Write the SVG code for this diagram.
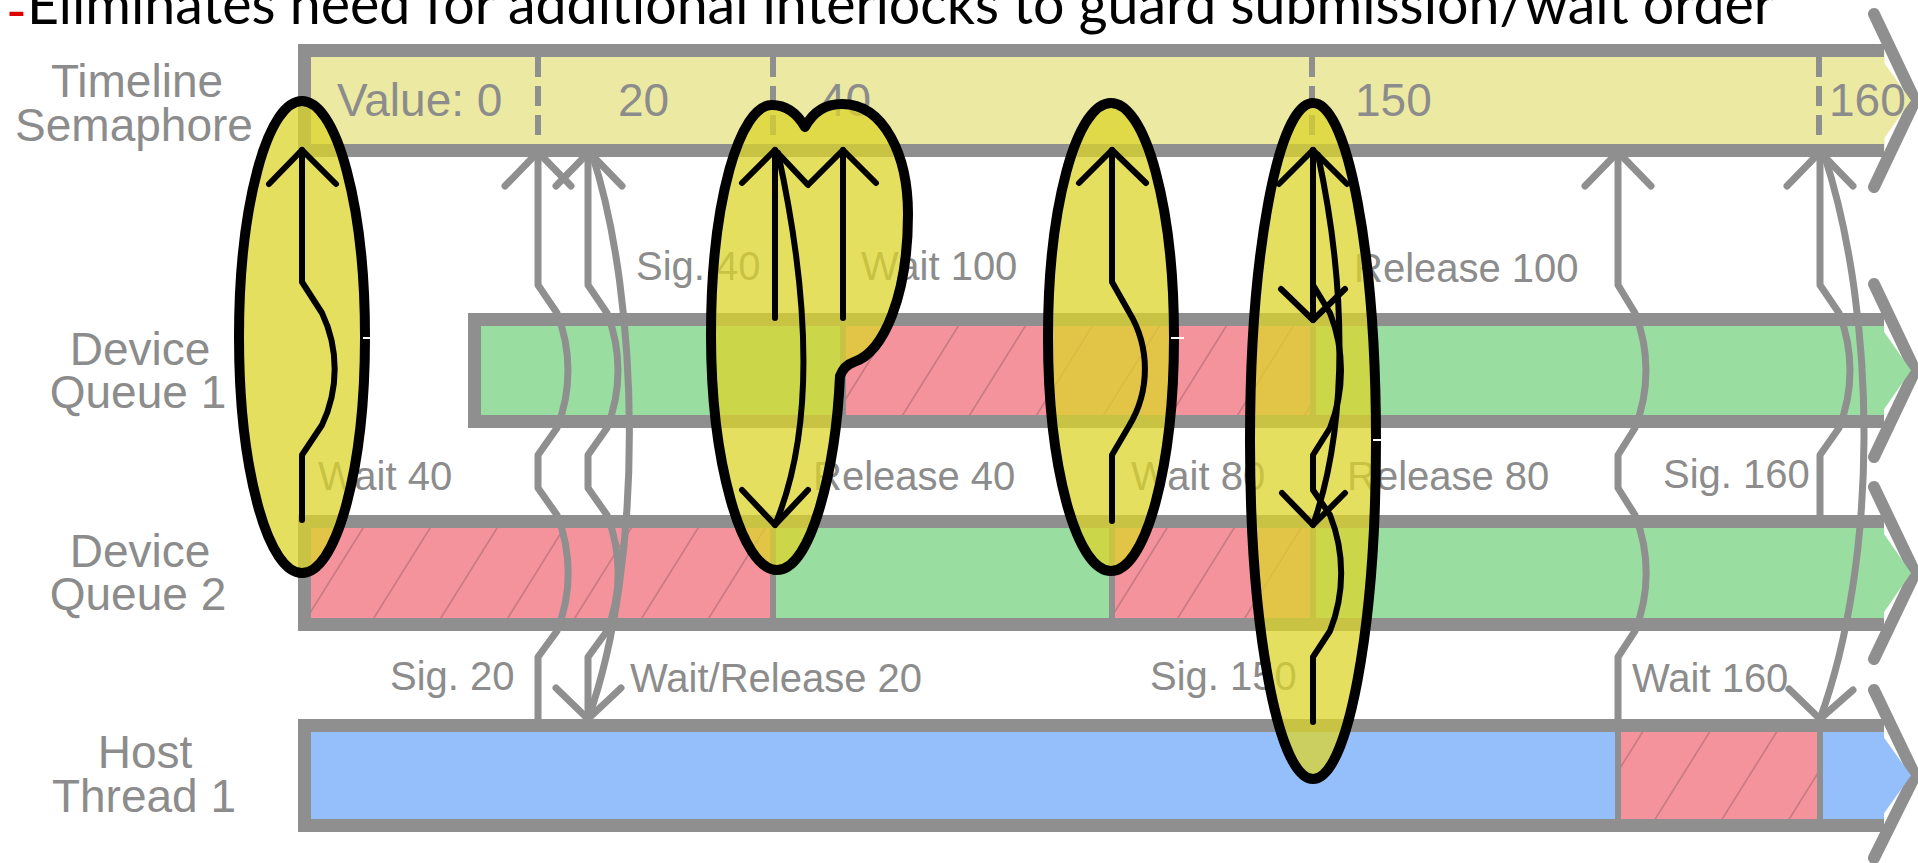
<svg xmlns="http://www.w3.org/2000/svg" width="1918" height="863" viewBox="0 0 1918 863">
<defs>
<pattern id="hatch" patternUnits="userSpaceOnUse" width="67" height="67" patternTransform="skewX(-32)">
<rect width="67" height="67" fill="#f4939c"/>
<line x1="23" y1="0" x2="23" y2="67" stroke="#c97a83" stroke-width="2"/>
</pattern>
</defs>
<style>
.bd{fill:none;stroke:#8f8f8f;stroke-width:13}
.chev{fill:none;stroke:#8f8f8f;stroke-width:12;stroke-linecap:round;stroke-linejoin:round}
.div{stroke:#8f8f8f;stroke-width:6}
.tick{stroke:#8f8f8f;stroke-width:6;stroke-dasharray:20 9}
.lane{font-family:"Liberation Sans",Arial,sans-serif;font-size:46px;fill:#8c8c8c;text-anchor:middle}
.val{font-family:"Liberation Sans",Arial,sans-serif;font-size:46px;fill:#8c8c8c}
.lbl{font-family:"Liberation Sans",Arial,sans-serif;font-size:40px;fill:#8c8c8c}
.con{fill:none;stroke:#8f8f8f;stroke-width:7;stroke-linecap:round;stroke-linejoin:round}
.blob{fill:#dcd42b;fill-opacity:0.75;stroke:#000;stroke-width:10;stroke-linejoin:round}
.blk{fill:none;stroke:#000;stroke-width:6;stroke-linecap:round;stroke-linejoin:round}
.wt{stroke:#fff;stroke-width:2}
.g{fill:#99dda0}.r{fill:url(#hatch)}.b{fill:#95bffb}.y{fill:#ece9a3}
.title{font-family:Lato,"Open Sans",sans-serif;font-size:56px;fill:#000}
.dash{font-family:Lato,"Open Sans",sans-serif;font-size:56px;fill:#e00000}
</style>

<g id="title">
<text class="dash" x="6" y="31">-</text>
<text class="title" x="27" y="24" textLength="1747" lengthAdjust="spacingAndGlyphs">Eliminates need for additional interlocks to guard submission/wait order</text>
</g>

<g id="timeline">
<path class="chev" d="M1874,14 L1915,100.5 L1874,187"/>
<rect class="y" x="304.5" y="50.5" width="1580" height="100"/>
<polygon class="y" points="1880,57 1911,100.5 1880,144"/>
<path class="bd" d="M1884,50.5 H304.5 V150.5 H1884"/>
<line class="tick" x1="538" y1="57" x2="538" y2="144"/>
<line class="tick" x1="773" y1="57" x2="773" y2="144"/>
<line class="tick" x1="1312" y1="57" x2="1312" y2="144"/>
<line class="tick" x1="1819" y1="57" x2="1819" y2="144"/>
<text class="lane" x="137" y="97">Timeline</text>
<text class="lane" x="134" y="141">Semaphore</text>
<text class="val" x="337" y="116">Value: 0</text>
<text class="val" x="618" y="116">20</text>
<text class="val" x="820" y="116">40</text>
<text class="val" x="1355" y="116">150</text>
<text class="val" x="1829" y="116">160</text>
</g>

<g id="queue1">
<path class="chev" d="M1874,284 L1915,370.5 L1874,457"/>
<rect class="g" x="474.5" y="319.5" width="369" height="102"/>
<rect class="r" x="843" y="319.5" width="470" height="102"/>
<rect class="g" x="1313" y="319.5" width="571" height="102"/>
<polygon class="g" points="1880,326 1911,370.5 1880,415"/>
<line class="div" x1="843" y1="319.5" x2="843" y2="421.5"/>
<line class="div" x1="1313" y1="319.5" x2="1313" y2="421.5"/>
<path class="bd" d="M1884,319.5 H474.5 V421.5 H1884"/>
<text class="lane" x="140" y="365">Device</text>
<text class="lane" x="138" y="408">Queue 1</text>
</g>

<g id="queue2">
<path class="chev" d="M1874,487 L1915,573 L1874,659"/>
<rect class="r" x="304.5" y="521.5" width="469" height="103"/>
<rect class="g" x="773" y="521.5" width="339" height="103"/>
<rect class="r" x="1112" y="521.5" width="201" height="103"/>
<rect class="g" x="1313" y="521.5" width="571" height="103"/>
<polygon class="g" points="1880,528 1911,573 1880,618"/>
<line class="div" x1="773" y1="521.5" x2="773" y2="624.5"/>
<line class="div" x1="1112" y1="521.5" x2="1112" y2="624.5"/>
<line class="div" x1="1313" y1="521.5" x2="1313" y2="624.5"/>
<path class="bd" d="M1884,521.5 H304.5 V624.5 H1884"/>
<text class="lane" x="140" y="567">Device</text>
<text class="lane" x="138" y="610">Queue 2</text>
</g>

<g id="host1">
<path class="chev" d="M1874,690 L1915,775.5 L1874,858"/>
<rect class="b" x="304.5" y="725.5" width="1314" height="100"/>
<rect class="r" x="1618" y="725.5" width="202" height="100"/>
<rect class="b" x="1820" y="725.5" width="64" height="100"/>
<polygon class="b" points="1880,732 1911,775.5 1880,819"/>
<line class="div" x1="1618" y1="725.5" x2="1618" y2="825.5"/>
<line class="div" x1="1820" y1="725.5" x2="1820" y2="825.5"/>
<path class="bd" d="M1884,725.5 H304.5 V825.5 H1884"/>
<text class="lane" x="145" y="768">Host</text>
<text class="lane" x="144" y="812">Thread 1</text>
</g>

<g id="connectors">
<path class="con" d="M538,152 V285 L557,313 A156,156 0 0 1 557,428 L538,455 V488 L557,515 A156,156 0 0 1 557,631 L538,657 V720"/>
<path class="con" d="M505,186 L538,152 L571,186"/>
<path class="con" d="M588,152 V285 L607,313 A156,156 0 0 1 607,428 L588,455 V488 L607,515 A156,156 0 0 1 607,631 L588,657 V720"/>
<path class="con" d="M556,186 L589,152 L622,186"/>
<path class="con" d="M592,154 C640,300 645,560 588,719"/>
<path class="con" d="M556,688 L588,719 L621,688"/>
<path class="con" d="M1618,152 V285 L1635,313 A156,156 0 0 1 1635,428 L1618,455 V488 L1635,515 A156,156 0 0 1 1635,631 L1618,657 V722"/>
<path class="con" d="M1585,186 L1618,152 L1651,186"/>
<path class="con" d="M1820,152 V285 L1839,313 A156,156 0 0 1 1839,428 L1820,455 V518"/>
<path class="con" d="M1787,186 L1820,152 L1853,186"/>
<path class="con" d="M1824,154 C1878,320 1878,560 1820,719"/>
<path class="con" d="M1789,689 L1820,719 L1853,690"/>
<text class="lbl" x="390" y="690">Sig. 20</text>
<text class="lbl" x="630" y="692">Wait/Release 20</text>
<text class="lbl" x="636" y="280">Sig. 40</text>
<text class="lbl" x="861" y="280">Wait 100</text>
<text class="lbl" x="1354" y="282">Release 100</text>
<text class="lbl" x="318" y="490">Wait 40</text>
<text class="lbl" x="813" y="490">Release 40</text>
<text class="lbl" x="1131" y="490">Wait 80</text>
<text class="lbl" x="1347" y="490">Release 80</text>
<text class="lbl" x="1663" y="488">Sig. 160</text>
<text class="lbl" x="1150" y="690">Sig. 150</text>
<text class="lbl" x="1632" y="692">Wait 160</text>
</g>

<g id="highlight1">
<ellipse class="blob" cx="302" cy="337" rx="63" ry="236"/>
<path class="blk" d="M302,520 V455 L322,425 A130,130 0 0 0 322,313 L302,282 V150"/>
<path class="blk" d="M269,184 L302,150 L336,184"/>
<line class="wt" x1="363" y1="338" x2="376" y2="338"/>
</g>

<g id="highlight2">
<path class="blob" d="M777,570 C741,570 711,460 711,335 C711,200 740,105 772,105 C788,105 798,115 805,127 C813,112 826,104 842,104 C884,104 908,155 908,214 C908,295 884,352 854,362 C848,364 843,368 840,376 C836,465 812,570 777,570 Z"/>
<path class="blk" d="M775,318 V150"/>
<path class="blk" d="M742,183 L775,150 L808,185 L843,150 L876,183"/>
<path class="blk" d="M843,318 V150"/>
<path class="blk" d="M778,153 C810,300 815,430 775,525"/>
<path class="blk" d="M742,490 L775,525 L808,490"/>
</g>

<g id="highlight3">
<ellipse class="blob" cx="1111" cy="337" rx="63" ry="234"/>
<path class="blk" d="M1112,521 V455 L1129,426 A110,110 0 0 0 1129,312 L1112,282 V150"/>
<path class="blk" d="M1079,183 L1112,150 L1146,183"/>
<line class="wt" x1="1171" y1="338" x2="1184" y2="338"/>
</g>

<g id="highlight4">
<ellipse class="blob" cx="1313" cy="441" rx="63" ry="338"/>
<path class="blk" d="M1313,722 V657 L1330,631 A156,156 0 0 0 1330,515 L1313,490 V455 L1330,428 A156,156 0 0 0 1330,313 L1313,285 V150"/>
<path class="blk" d="M1279,184 L1313,150 L1347,184"/>
<path class="blk" d="M1313,150 V320"/>
<path class="blk" d="M1281,289 L1313,320 L1345,289"/>
<path class="blk" d="M1318,155 C1345,280 1350,420 1313,525"/>
<path class="blk" d="M1282,493 L1313,525 L1345,493"/>
<line class="wt" x1="1373" y1="440" x2="1386" y2="440"/>
</g>
</svg>
